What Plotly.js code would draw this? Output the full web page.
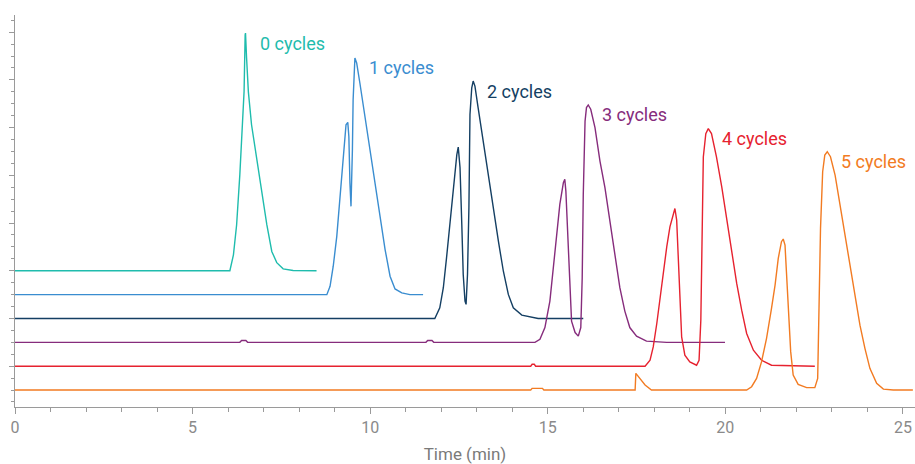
<!DOCTYPE html>
<html>
<head>
<meta charset="utf-8">
<script src="https://cdn.plot.ly/plotly-3.0.1.min.js"></script>
<style>html,body{margin:0;padding:0;background:#fff;}#chart{width:915px;height:464px;}</style>
</head>
<body>
<div id="chart"></div>
<script>
// Series names and colours
const seriesNames = ["0 cycles", "1 cycles", "2 cycles", "3 cycles", "4 cycles", "5 cycles"];
const seriesColors = ["#1fbcad", "#3a8dd0", "#143f63", "#862c7c", "#e6222f", "#f27b22"];
// vertical stacking offset of each chromatogram (arbitrary signal units)
const seriesOffsets = [5, 4, 3, 2, 1, 0];

// Time (min) and signal values
const t0 = [0, 6.05, 6.15, 6.24, 6.33, 6.41, 6.45, 6.48, 6.49, 6.52, 6.57, 6.66, 6.80, 6.95, 7.09, 7.23, 7.37, 7.55, 7.83, 8.49];
const s0 = [0, 0, 0.67, 1.93, 4.02, 6.12, 7.51, 9.89, 9.96, 8.93, 7.51, 6.12, 4.74, 3.32, 1.93, 0.81, 0.34, 0.08, 0.01, 0];

const t1 = [0, 8.78, 8.87, 8.96, 9.06, 9.15, 9.24, 9.32, 9.37, 9.40, 9.43, 9.46, 9.50, 9.52, 9.57, 9.62, 9.71, 9.85, 9.99, 10.14, 10.28, 10.42, 10.56, 10.70, 10.89, 11.12, 11.49];
const s1 = [0, 0, 0.35, 1.19, 2.44, 3.98, 5.66, 7.12, 7.22, 6.63, 4.68, 3.70, 6.08, 8.17, 9.92, 9.71, 8.87, 7.47, 6.08, 4.68, 3.28, 1.89, 0.77, 0.24, 0.07, 0, 0];

const t2 = [0, 11.82, 11.96, 12.06, 12.15, 12.25, 12.34, 12.44, 12.48, 12.53, 12.58, 12.62, 12.67, 12.70, 12.74, 12.78, 12.81, 12.86, 12.90, 12.95, 13.04, 13.18, 13.32, 13.47, 13.61, 13.75, 13.89, 14.03, 14.27, 14.73, 16.0];
const s2 = [0, 0, 0.45, 1.29, 2.54, 4.08, 5.62, 6.87, 7.18, 6.32, 3.94, 1.84, 0.73, 0.59, 1.84, 4.64, 8.55, 9.67, 9.95, 9.74, 8.83, 7.43, 6.03, 4.64, 3.24, 1.98, 1.01, 0.45, 0.14, 0, 0];

const t3 = [0, 6.33, 6.38, 6.50, 6.55, 11.57, 11.62, 11.74, 11.79, 14.64, 14.78, 14.92, 15.06, 15.15, 15.25, 15.34, 15.44, 15.48, 15.51, 15.58, 15.63, 15.67, 15.77, 15.86, 15.93, 15.97, 16.00, 16.05, 16.09, 16.14, 16.21, 16.33, 16.47, 16.61, 16.75, 16.89, 17.03, 17.17, 17.31, 17.50, 17.78, 18.35, 19.99];
const s3 = [0, 0, 0.08, 0.08, 0, 0, 0.08, 0.08, 0, 0, 0.13, 0.62, 1.73, 3.13, 4.53, 5.78, 6.69, 6.83, 6.34, 4.11, 2.01, 0.89, 0.41, 0.26, 0.62, 2.71, 6.20, 9.27, 9.84, 9.95, 9.77, 9.00, 7.60, 6.48, 5.08, 3.69, 2.29, 1.31, 0.62, 0.26, 0.05, 0, 0];

const t4 = [0, 14.52, 14.56, 14.62, 14.66, 17.74, 17.88, 17.97, 18.07, 18.16, 18.25, 18.35, 18.44, 18.53, 18.58, 18.63, 18.67, 18.72, 18.77, 18.86, 19.00, 19.19, 19.26, 19.31, 19.34, 19.38, 19.45, 19.52, 19.61, 19.75, 19.90, 20.04, 20.18, 20.32, 20.46, 20.60, 20.79, 21.02, 21.30, 22.52];
const s4 = [0, 0, 0.08, 0.08, 0, 0, 0.25, 0.81, 1.79, 2.90, 4.02, 5.00, 5.84, 6.40, 6.61, 6.12, 4.72, 2.63, 1.23, 0.46, 0.18, 0.04, 0.25, 1.93, 6.12, 8.77, 9.75, 9.96, 9.75, 8.77, 7.51, 6.12, 4.72, 3.47, 2.35, 1.37, 0.67, 0.25, 0.04, 0];

const t5 = [0, 14.52, 14.56, 14.85, 14.89, 17.46, 17.48, 17.59, 17.74, 17.92, 20.60, 20.74, 20.88, 21.02, 21.16, 21.30, 21.40, 21.49, 21.58, 21.63, 21.68, 21.72, 21.77, 21.84, 21.91, 22.05, 22.29, 22.52, 22.60, 22.64, 22.68, 22.74, 22.80, 22.87, 22.96, 23.09, 23.23, 23.37, 23.51, 23.65, 23.79, 23.93, 24.07, 24.26, 24.45, 24.73, 25.28];
const s5 = [0, 0, 0.07, 0.07, 0, 0, 0.70, 0.49, 0.21, 0, 0, 0.14, 0.49, 1.19, 2.17, 3.42, 4.40, 5.52, 6.22, 6.33, 6.08, 4.96, 3.28, 1.61, 0.63, 0.24, 0.10, 0.10, 0.49, 3.28, 6.78, 9.15, 9.85, 9.99, 9.78, 9.01, 7.75, 6.50, 5.24, 3.98, 2.72, 1.75, 0.91, 0.28, 0.04, 0, 0];

const times = [t0, t1, t2, t3, t4, t5];
const signals = [s0, s1, s2, s3, s4, s5];

const FONT = "Roboto, 'Noto Sans', 'DejaVu Sans', sans-serif";

const traces = [];
const annotations = [];
for (let i = 0; i < seriesNames.length; i++) {
  const y = signals[i].map(v => v + seriesOffsets[i]);
  traces.push({
    type: "scatter", mode: "lines", name: seriesNames[i],
    x: times[i], y: y,
    line: {color: seriesColors[i], width: 1.4},
    hoverinfo: "x+y+name"
  });
  let k = 0;
  for (let j = 1; j < y.length; j++) if (y[j] > y[k]) k = j;
  annotations.push({
    x: times[i][k], y: y[k], xref: "x", yref: "y",
    text: seriesNames[i], showarrow: false,
    xanchor: "left", yanchor: "middle", xshift: 12, yshift: -10,
    font: {family: FONT, size: 18, color: seriesColors[i]}
  });
}

const layout = {
  width: 915, height: 464,
  margin: {l: 15, r: 0, t: 15, b: 57},
  paper_bgcolor: "#fff", plot_bgcolor: "#fff",
  showlegend: false,
  font: {family: FONT, color: "#7f7f7f"},
  xaxis: {
    range: [0, 25.34], showgrid: false, zeroline: false,
    showline: true, linecolor: "#9a9a9a", linewidth: 1,
    ticks: "outside", ticklen: 6, tickcolor: "#9a9a9a", tickwidth: 1,
    tick0: 0, dtick: 5,
    minor: {ticks: "outside", ticklen: 4, tickcolor: "#9a9a9a", dtick: 1, showgrid: false},
    tickfont: {family: FONT, size: 16, color: "#8a8a8a"},
    title: {text: "Time (min)", font: {family: FONT, size: 17, color: "#7a7a7a"}, standoff: 12}
  },
  yaxis: {
    range: [-0.71, 15.72], showgrid: false, zeroline: false,
    showline: true, linecolor: "#9a9a9a", linewidth: 1,
    ticks: "outside", ticklen: 5, tickcolor: "#9a9a9a", tickwidth: 1,
    tick0: 1, dtick: 2, showticklabels: false,
    minor: {ticks: "outside", ticklen: 3, tickcolor: "#9a9a9a", dtick: 0.5, tick0: 0, showgrid: false}
  },
  annotations: annotations
};

Plotly.newPlot("chart", traces, layout, {displayModeBar: false, staticPlot: true});
</script>
</body>
</html>
